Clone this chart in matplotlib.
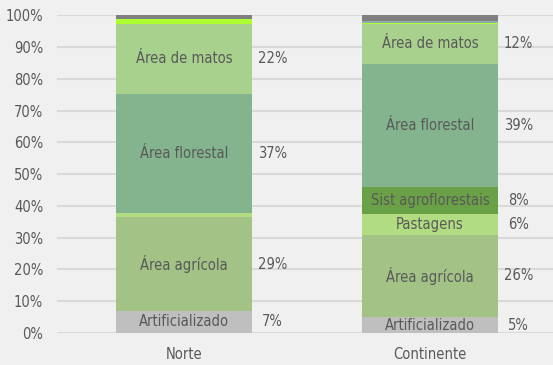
import matplotlib
matplotlib.use("Agg")
import matplotlib.pyplot as plt
import numpy as np

regions = ["Norte", "Continente"]
classes = ["Artificializado", "Área agrícola", "Pastagens", "Sist agroflorestais",
           "Área florestal", "Área de matos", "Zonas húmidas", "Águas", "Outros"]
norte = [7.0, 29.4, 1.3, 0.0, 37.4, 22.3, 1.3, 0.0, 1.3]
continente = [4.9, 26.1, 6.4, 8.4, 39.0, 12.4, 0.4, 0.5, 1.9]
colors = ["#bfbfbf", "#a3c286", "#b2dc82", "#6aa046", "#84b48e", "#a9d18e",
          "#adff2f", "#8fa9ae", "#7f7f7f"]
# which segments carry an in-bar caption and a side percentage, per region
labelled = [
    {"Artificializado", "Área agrícola", "Área florestal", "Área de matos"},
    {"Artificializado", "Área agrícola", "Pastagens", "Sist agroflorestais",
     "Área florestal", "Área de matos"},
]
yticks = [f"{v}%" for v in range(0, 101, 10)]

plt.rcParams["font.family"] = ["DejaVu Sans"]
plt.rcParams["font.stretch"] = "condensed"
plt.rcParams["font.weight"] = "light"
txt = "#595959"
bg = "#f0f0f0"

fig = plt.figure(figsize=(5.53, 3.65), dpi=100, facecolor=bg)
ax = fig.add_axes([57 / 553, 1 - 333 / 365, 1 - 57 / 553, (333 - 15.3) / 365])
ax.set_facecolor(bg)

x = np.arange(len(regions))
data = np.array([norte, continente])
width = 0.555
bottom = np.zeros(len(regions))
for j, cls in enumerate(classes):
    vals = data[:, j]
    ax.bar(x, vals, width, bottom=bottom, color=colors[j], zorder=3, linewidth=0)
    for i in range(len(regions)):
        if cls in labelled[i]:
            yc = bottom[i] + vals[i] / 2
            ax.text(x[i], yc, cls, ha="center", va="center", color=txt,
                    fontsize=10.5, zorder=4)
            ax.text(x[i] + 0.36, yc, f"{round(vals[i])}%", ha="center",
                    va="center", color=txt, fontsize=10.5, zorder=4)
    bottom += vals

ax.set_ylim(0, 100)
ax.set_xlim(-0.516, 1.5)
ax.set_yticks(range(0, 101, 10))
ax.set_yticklabels(yticks, color=txt, fontsize=10.5)
ax.set_xticks(x)
ax.set_xticklabels(regions, color=txt, fontsize=10.5)
ax.tick_params(axis="both", length=0)
ax.tick_params(axis="y", pad=10)
ax.tick_params(axis="x", pad=10)
ax.yaxis.grid(True, color="#d9d9d9", linewidth=1.5, zorder=0)
ax.set_axisbelow(True)
for s in ax.spines.values():
    s.set_visible(False)

fig.savefig("out.png", dpi=100, facecolor=bg)
